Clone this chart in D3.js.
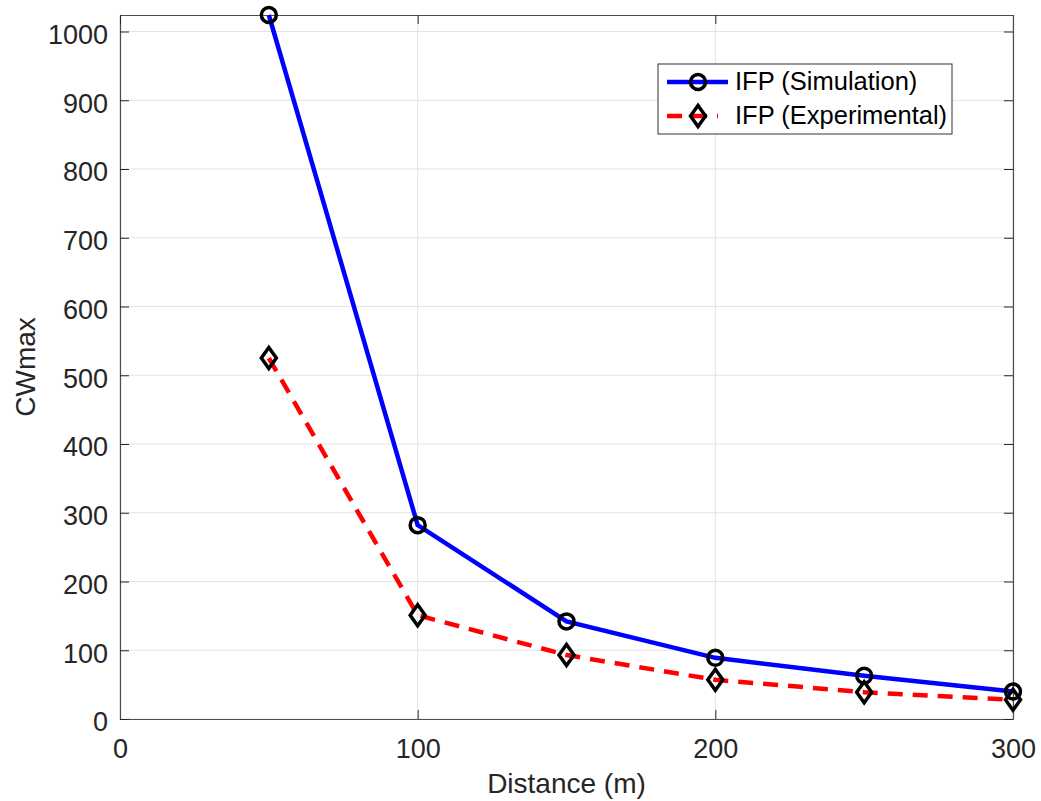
<!DOCTYPE html>
<html><head><meta charset="utf-8">
<script src="https://cdn.jsdelivr.net/npm/d3@7/dist/d3.min.js"></script>
<style>body{margin:0;background:#fff;} text{font-family:"Liberation Sans",Arial,sans-serif;}</style>
</head><body>
<svg id="c" width="1041" height="801"></svg>
<script>
const distances = [50, 100, 150, 200, 250, 300];
const simulation = [1024, 282, 142, 89, 63, 40];
const experimental = [525, 151, 93, 57, 39, 28];
const xTicks = [0, 100, 200, 300];
const yTicks = [0, 100, 200, 300, 400, 500, 600, 700, 800, 900, 1000];
const seriesNames = ["IFP (Simulation)", "IFP (Experimental)"];

const svg = d3.select("#c");
const L = 120, R = 1013, T = 15, B = 719;
const x = d3.scaleLinear().domain([0, 300]).range([L, R]);
const y = d3.scaleLinear().domain([0, 1024]).range([B, T]);

svg.append("rect").attr("x", 0).attr("y", 0).attr("width", 1041).attr("height", 801).attr("fill", "#fff");

// grid
const g = svg.append("g");
g.selectAll(".gx").data(xTicks).enter().append("line")
  .attr("x1", d => x(d)).attr("x2", d => x(d)).attr("y1", T).attr("y2", B)
  .attr("stroke", "#e3e3e3").attr("stroke-width", 1);
g.selectAll(".gy").data(yTicks).enter().append("line")
  .attr("x1", L).attr("x2", R).attr("y1", d => y(d)).attr("y2", d => y(d))
  .attr("stroke", "#e3e3e3").attr("stroke-width", 1);

// axes
const axCol = "#262626";
const fmt = d3.format("d");
const xAxis = svg.append("g").attr("transform", `translate(0,${B})`)
  .call(d3.axisBottom(x).tickValues(xTicks).tickFormat(fmt).tickSizeInner(-9).tickSizeOuter(0).tickPadding(20));
const yAxis = svg.append("g").attr("transform", `translate(${L},0)`)
  .call(d3.axisLeft(y).tickValues(yTicks).tickFormat(fmt).tickSizeInner(-9).tickSizeOuter(0).tickPadding(12));
const xTop = svg.append("g").attr("transform", `translate(0,${T})`)
  .call(d3.axisTop(x).tickValues(xTicks).tickSizeInner(-9).tickSizeOuter(0).tickFormat(""));
const yRight = svg.append("g").attr("transform", `translate(${R},0)`)
  .call(d3.axisRight(y).tickValues(yTicks).tickSizeInner(-9).tickSizeOuter(0).tickFormat(""));
[xAxis, yAxis, xTop, yRight].forEach(a => {
  a.select(".domain").attr("stroke", "#4d4d4d").attr("stroke-width", 1.2);
  a.selectAll(".tick line").attr("stroke", axCol).attr("stroke-width", 1);
  a.selectAll("text").attr("fill", axCol).style("font-size", "27px").style("font-family", "'Liberation Sans',Arial,sans-serif");
});
yAxis.selectAll("text").attr("dy", "0.44em");

svg.append("text").attr("x", (L + R) / 2).attr("y", 793).attr("text-anchor", "middle")
  .attr("fill", axCol).style("font-size", "28px").text("Distance (m)");
svg.append("text").attr("transform", `translate(35,${(T + B) / 2}) rotate(-90)`).attr("text-anchor", "middle")
  .attr("fill", axCol).style("font-size", "28px").text("CWmax");

// lines
const simData = distances.map((d, i) => [d, simulation[i]]);
const expData = distances.map((d, i) => [d, experimental[i]]);
const line = d3.line().x(d => x(d[0])).y(d => y(d[1]));

svg.append("path").datum(simData).attr("d", line).attr("fill", "none")
  .attr("stroke", "#0000ff").attr("stroke-width", 4.5);
svg.append("path").datum(expData).attr("d", line).attr("fill", "none")
  .attr("stroke", "#ff0000").attr("stroke-width", 4.5).attr("stroke-dasharray", "15,10");

function diamond(sel, cx, cy) {
  sel.append("path").attr("d", `M${cx},${cy - 10.5}L${cx + 7.5},${cy}L${cx},${cy + 10.5}L${cx - 7.5},${cy}Z`)
    .attr("fill", "none").attr("stroke", "#000").attr("stroke-width", 3.5);
}
const mk = svg.append("g");
simData.forEach(d => {
  mk.append("circle").attr("cx", x(d[0])).attr("cy", y(d[1])).attr("r", 7.5)
    .attr("fill", "none").attr("stroke", "#000").attr("stroke-width", 3.5);
});
expData.forEach(d => diamond(mk, x(d[0]), y(d[1])));

// legend
const lg = svg.append("g");
lg.append("rect").attr("x", 658).attr("y", 64).attr("width", 294).attr("height", 70)
  .attr("fill", "#fff").attr("stroke", "#333").attr("stroke-width", 1);
lg.append("line").attr("x1", 667).attr("x2", 728).attr("y1", 82).attr("y2", 82)
  .attr("stroke", "#0000ff").attr("stroke-width", 4.5);
lg.append("circle").attr("cx", 698).attr("cy", 82).attr("r", 7.5).attr("fill", "none")
  .attr("stroke", "#000").attr("stroke-width", 3.5);
lg.append("line").attr("x1", 667).attr("x2", 718).attr("y1", 116).attr("y2", 116)
  .attr("stroke", "#ff0000").attr("stroke-width", 4.5).attr("stroke-dasharray", "15,10");
diamond(lg, 698, 116);
lg.append("text").attr("x", 735).attr("y", 90).attr("fill", "#000").style("font-size", "25.5px").text(seriesNames[0]);
lg.append("text").attr("x", 735).attr("y", 124).attr("fill", "#000").style("font-size", "25.5px").text(seriesNames[1]);
</script>
</body></html>
